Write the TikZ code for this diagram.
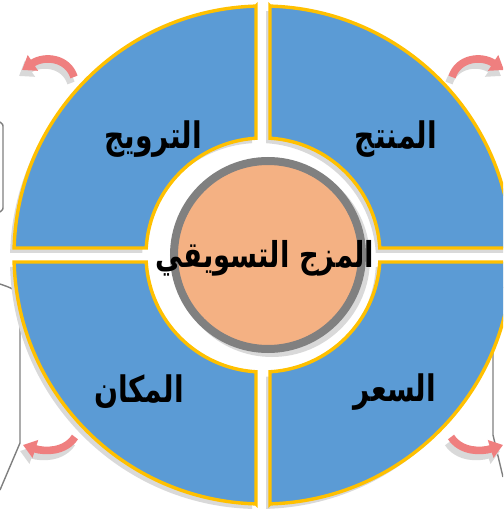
\documentclass[tikz,border=0pt]{standalone}
\usepackage{fontspec}
\usetikzlibrary{arrows.meta}
\newfontfamily\arabicfont[Script=Arabic]{DejaVu Sans}
\TeXXeTstate=1
\definecolor{Quad}{HTML}{5B9BD5}
\definecolor{Rim}{HTML}{FFC000}
\definecolor{Peach}{HTML}{F4B183}
\definecolor{Ring}{HTML}{808080}
\definecolor{Shade}{HTML}{D9D9D9}
\definecolor{Bend}{HTML}{EF7F7F}
\definecolor{Edge}{HTML}{7F7F7F}
\def\quadrant{(7,248.90) -- (7,116.79) arc[start angle=86.57,end angle=3.43,radius=117] -- (248.90,7) arc[start angle=1.61,end angle=88.39,radius=249] -- cycle}
\newcommand{\tall}[1]{\scalebox{1}[1.3]{\beginR #1\endR}}

\begin{document}
\begin{tikzpicture}[x=0.5mm,y=0.5mm,
  quadrant/.style={fill=Quad,draw=Rim,line width=1.7mm},
  shade/.style={fill=Shade},
  lbl/.style={font=\arabicfont\bfseries\fontsize{40}{44}\selectfont,inner sep=0pt},
  bendarrow/.style={draw=#1,line width=3.8mm,-{Triangle[length=6.5mm,width=9mm]}}]
\useasboundingbox (-263,-256) rectangle (240,255);
\clip (-263,-256) rectangle (240,255);
% bits of the neighbouring shapes
\draw[Edge,line width=0.7mm] (-263,133) .. controls (-260,131) .. (-260,126) -- (-260,50) .. controls (-260,45) .. (-263,43);
\draw[Edge,line width=0.7mm] (-263,-29) .. controls (-243,-36) .. (-243,-63) -- (-243,-188) -- (-263,-235);
\draw[Edge,line width=0.7mm] (240,-32) .. controls (230,-45) .. (230,-78) -- (230,-180) -- (240,-222);
% four quadrants
\foreach \sx/\sy in {1/1,-1/1,-1/-1,1/-1} {\fill[shade,shift={(-4,-5)},xscale=\sx,yscale=\sy] \quadrant;}
\foreach \sx/\sy in {1/1,-1/1,-1/-1,1/-1} {\draw[quadrant,xscale=\sx,yscale=\sy] \quadrant;}
% centre
\fill[Shade] (9,-4) circle[radius=98];
\draw[Ring,line width=4mm,fill=Peach] (5,0) circle[radius=94];
\node[lbl,font=\arabicfont\bfseries\fontsize{39}{44}\selectfont] (mix) at (2,-3) {\tall{المزج التسويقي}};
\node[lbl] (promotion) at (-110,116) {\tall{الترويج}};
\node[lbl] (product) at (133,116) {\tall{المنتج}};
\node[lbl] (place) at (-124,-137) {\tall{المكان}};
\node[lbl] (price) at (132,-137) {\tall{السعر}};
% curved arrows
\foreach \sx in {1,-1} {
  \draw[bendarrow=Shade,shift={(-3,-6)},xscale=\sx] (-189,178) .. controls (-195,197) and (-218,200) .. (-241,185);
  \draw[bendarrow=Bend,xscale=\sx] (-189,178) .. controls (-195,197) and (-218,200) .. (-241,185);
  \draw[bendarrow=Shade,shift={(-3,-6)},xscale=\sx] (-188,-182) .. controls (-198,-197) and (-218,-197) .. (-240,-190);
  \draw[bendarrow=Bend,xscale=\sx] (-188,-182) .. controls (-198,-197) and (-218,-197) .. (-240,-190);
}
\end{tikzpicture}
\end{document}
